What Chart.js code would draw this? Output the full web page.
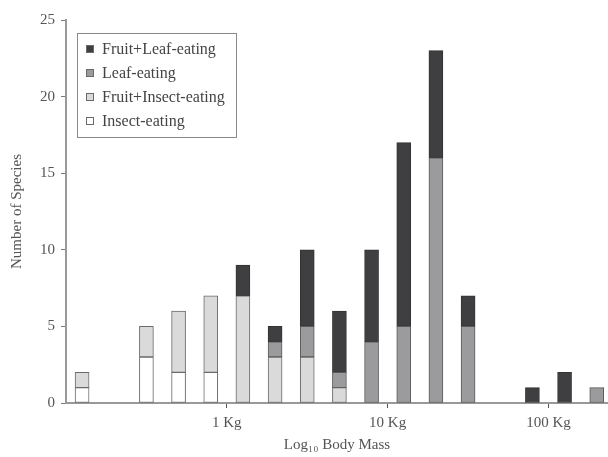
<!DOCTYPE html>
<html>
<head>
<meta charset="utf-8">
<script src="https://cdn.jsdelivr.net/npm/chart.js@4"></script>
<style>
html,body{margin:0;padding:0;background:#fff;overflow:hidden;}
#wrap{width:608px;height:457px;}
</style>
</head>
<body>
<div id="wrap"><canvas id="c" width="608" height="457"></canvas></div>
<script>
// log10 body mass bin centres (kg)
const binCentres = [-0.9,-0.5,-0.3,-0.1,0.1,0.3,0.5,0.7,0.9,1.1,1.3,1.5,1.9,2.1,2.3];
const insectEating     = [1,3,2,2,0,0,0,0,0,0,0,0,0,0,0];
const fruitInsectEating= [1,2,4,5,7,3,3,1,0,0,0,0,0,0,0];
const leafEating       = [0,0,0,0,0,1,2,1,4,5,16,5,0,0,1];
const fruitLeafEating  = [0,0,0,0,2,1,5,4,6,12,7,2,1,2,0];
const xTickValues = [0,1,2];
const xTickLabels = ['1 Kg','10 Kg','100 Kg'];
const yTicks = [0,5,10,15,20,25];

const serif = '"Liberation Serif", "DejaVu Serif", serif';
const toPts = arr => arr.map((v,i)=>({x:binCentres[i], y: v>0 ? v : null}));

const datasets = [
  {label:'Insect-eating', data:toPts(insectEating), backgroundColor:'#ffffff', borderColor:'#6a6a6a'},
  {label:'Fruit+Insect-eating', data:toPts(fruitInsectEating), backgroundColor:'#dadada', borderColor:'#6a6a6a'},
  {label:'Leaf-eating', data:toPts(leafEating), backgroundColor:'#9b9b9d', borderColor:'#5a5a5a'},
  {label:'Fruit+Leaf-eating', data:toPts(fruitLeafEating), backgroundColor:'#3f3f42', borderColor:'#333'}
].map(d=>Object.assign(d,{borderWidth:1, borderSkipped:false, barThickness:14}));

const legendBox = {
  id:'legendBox',
  afterDraw(chart){
    const ctx = chart.ctx;
    const a = chart.chartArea;
    const x0 = a.left + 11, y0 = a.top + 13, w = 159, h = 104;
    ctx.save();
    ctx.strokeStyle = '#8a8a8a';
    ctx.lineWidth = 1;
    ctx.strokeRect(x0+0.5, y0+0.5, w, h);
    ctx.font = '16px ' + serif;
    ctx.textBaseline = 'middle';
    const items = chart.data.datasets.slice().reverse();
    items.forEach((ds,i)=>{
      const cy = y0 + 16 + i*24;
      ctx.fillStyle = ds.backgroundColor;
      ctx.fillRect(x0+9.5, cy-3.5, 7, 7);
      ctx.strokeStyle = '#6a6a6a';
      ctx.strokeRect(x0+9.5, cy-3.5, 7, 7);
      ctx.fillStyle = '#444';
      ctx.fillText(ds.label, x0+25, cy+1);
    });
    ctx.restore();
  }
};

new Chart(document.getElementById('c'), {
  type:'bar',
  data:{datasets},
  options:{
    responsive:false,
    animation:false,
    devicePixelRatio:1,
    layout:{padding:{top:20,right:0,left:0,bottom:0}},
    plugins:{legend:{display:false}, tooltip:{enabled:false}},
    scales:{
      x:{
        type:'linear', stacked:true, min:-1, max:2.37, offset:false,
        afterBuildTicks(s){ s.ticks = xTickValues.map(v=>({value:v})); },
        afterFit(s){ s.height = 54; },
        ticks:{callback:(v)=>{const i=xTickValues.indexOf(v); return i>=0?xTickLabels[i]:'';}, font:{family:serif,size:15}, color:'#555', padding:6, maxRotation:0},
        grid:{display:true, offset:false, drawOnChartArea:false, drawTicks:true, tickLength:5, color:'#555', tickColor:'#555', tickWidth:1},
        border:{display:true, color:'#999', width:2},
        title:{display:true, text:'Log\u2081\u2080 Body Mass', font:{family:serif,size:15}, color:'#555', padding:{top:2,bottom:3}}
      },
      y:{
        stacked:true, min:0, max:25,
        afterBuildTicks(s){ s.ticks = yTicks.map(v=>({value:v})); },
        afterFit(s){ s.width = 66; },
        ticks:{font:{family:serif,size:15}, color:'#555', padding:6},
        grid:{display:true, drawOnChartArea:false, drawTicks:true, tickLength:5, color:'#777'},
        border:{display:true, color:'#999', width:2},
        title:{display:true, text:'Number of Species', font:{family:serif,size:15}, color:'#555', padding:{top:8,bottom:4}}
      }
    }
  },
  plugins:[legendBox]
});
</script>
</body>
</html>
